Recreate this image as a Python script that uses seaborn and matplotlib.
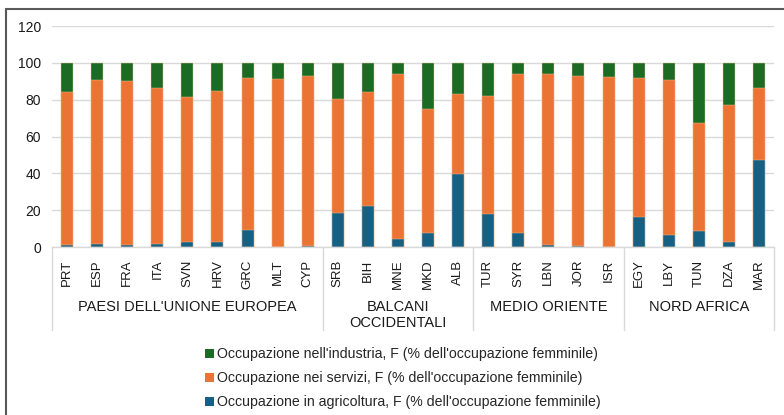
import matplotlib
matplotlib.use("Agg")
import matplotlib.pyplot as plt
import seaborn as sns
import pandas as pd
import numpy as np
from matplotlib.lines import Line2D
from matplotlib.patches import Patch

countries = ["PRT", "ESP", "FRA", "ITA", "SVN", "HRV", "GRC", "MLT", "CYP",
             "SRB", "BIH", "MNE", "MKD", "ALB",
             "TUR", "SYR", "LBN", "JOR", "ISR",
             "EGY", "LBY", "TUN", "DZA", "MAR"]
groups = ["PAESI DELL'UNIONE EUROPEA", "BALCANI\nOCCIDENTALI", "MEDIO ORIENTE", "NORD AFRICA"]
group_sizes = [9, 5, 5, 5]

agricoltura = [1.3, 1.6, 1.1, 1.6, 2.9, 2.7, 9.5, 0.2, 0.5,
               18.4, 22.4, 4.5, 7.6, 39.8,
               18.0, 7.6, 1.1, 0.5, 0.2,
               16.4, 6.5, 8.7, 2.7, 47.3]
servizi = [82.9, 89.3, 89.1, 84.6, 78.6, 82.0, 82.3, 91.1, 92.6,
           61.8, 61.8, 89.3, 67.3, 43.5,
           64.0, 86.2, 92.7, 92.6, 92.3,
           75.1, 84.2, 58.9, 74.4, 38.9]
industria = [15.8, 9.1, 9.8, 13.8, 18.5, 15.3, 8.2, 8.7, 6.9,
             19.8, 15.8, 6.2, 25.1, 16.7,
             18.0, 6.2, 6.2, 6.9, 7.5,
             8.5, 9.3, 32.4, 22.9, 13.8]

labels = ["Occupazione nell'industria, F (% dell'occupazione femminile)",
          "Occupazione nei servizi, F (% dell'occupazione femminile)",
          "Occupazione in agricoltura, F (% dell'occupazione femminile)"]
colors = ["#1b6b24", "#eb7434", "#166083"]

df = pd.DataFrame({"country": countries,
                   "agr": agricoltura, "ser": servizi, "ind": industria})
df["top_ser"] = df["agr"] + df["ser"]
df["top_ind"] = df["top_ser"] + df["ind"]

sns.set_theme(style="white")
plt.rcParams["font.family"] = ["Liberation Sans", "DejaVu Sans"]

W, H = 784, 415
fig = plt.figure(figsize=(W / 100, H / 100), dpi=100)
ax = fig.add_axes([52 / W, 1 - 247 / H, (774 - 52) / W, (247 - 26) / H])

for col, c in zip(["top_ind", "top_ser", "agr"], colors):
    sns.barplot(data=df, x="country", y=col, color=c, width=0.4, ax=ax,
                saturation=1, edgecolor="#f2c3a0", linewidth=0.3, order=countries)

ax.set_xlim(-0.5, len(countries) - 0.5)
ax.set_ylim(0, 120)
ax.set_yticks(np.arange(0, 121, 20))
ax.yaxis.grid(True, color="#d9d9d9", linewidth=1)
ax.set_axisbelow(True)
for s in ["top", "right", "left"]:
    ax.spines[s].set_visible(False)
ax.spines["bottom"].set_color("#d9d9d9")
ax.spines["bottom"].set_linewidth(1)
ax.set_xlabel("")
ax.set_ylabel("")
ax.tick_params(axis="y", length=0, labelsize=10, labelcolor="#1a1a1a", pad=8)
ax.tick_params(axis="x", length=0, labelsize=9.5, labelcolor="#1a1a1a", pad=9)
plt.setp(ax.get_xticklabels(), rotation=90)

# group separators and labels
trans = ax.get_xaxis_transform()
bounds = np.concatenate([[0], np.cumsum(group_sizes)]) - 0.5
y_bottom_sep = -(330 - 247) / (247 - 26)
for b in bounds:
    ax.add_line(Line2D([b, b], [0, y_bottom_sep], transform=trans, color="#d9d9d9",
                       linewidth=1, clip_on=False))
y_lab = -(300 - 247) / (247 - 26)
for g, a, b in zip(groups, bounds[:-1], bounds[1:]):
    ax.text((a + b) / 2, y_lab, g, transform=trans, ha="center", va="top",
            fontsize=10.5, color="#1a1a1a", linespacing=1.15)

# legend
handles = [Patch(facecolor=c, edgecolor="none") for c in colors]
fig.legend(handles, labels, loc="upper left", bbox_to_anchor=(198 / W, 1 - 340 / H),
           frameon=False, fontsize=10.2, handlelength=0.6, handleheight=0.6,
           handletextpad=0.25, labelspacing=0.72, borderpad=0)

# outer frame (left and top edges)
fig.add_artist(Line2D([6 / W, 6 / W], [0, 1 - 9 / H], transform=fig.transFigure,
                      color="#595959", linewidth=1.5))
fig.add_artist(Line2D([6 / W, 1], [1 - 9 / H, 1 - 9 / H], transform=fig.transFigure,
                      color="#595959", linewidth=1.5))

fig.savefig("out.png", dpi=100)
